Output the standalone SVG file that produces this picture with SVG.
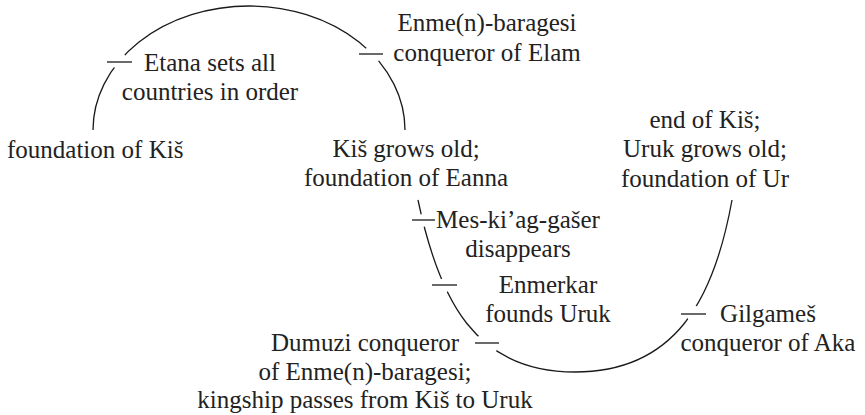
<svg xmlns="http://www.w3.org/2000/svg" width="865" height="415" viewBox="0 0 865 415">
  <style>
    .arc { fill: none; stroke: #1a1a1a; stroke-width: 1.3; }
    .tick { stroke: #1a1a1a; stroke-width: 1.3; }
    text { font-family: "Liberation Serif", "Times New Roman", serif; font-size: 25px; fill: #222; }
    .c { text-anchor: middle; }
  </style>
  <defs>
    <!-- breaks in the arcs where each event tick crosses them -->
    <mask id="gaps" maskUnits="userSpaceOnUse" x="0" y="0" width="865" height="415">
      <rect width="865" height="415" fill="#fff"/>
      <circle cx="120" cy="61.5" r="8" fill="#000"/>
      <circle cx="372" cy="55" r="9" fill="#000"/>
      <circle cx="422.5" cy="220.5" r="6.5" fill="#000"/>
      <circle cx="444" cy="285.5" r="7" fill="#000"/>
      <circle cx="487" cy="344" r="11.5" fill="#000"/>
      <circle cx="694" cy="313.7" r="8" fill="#000"/>
    </mask>
  </defs>

  <g id="connectors" mask="url(#gaps)">
    <!-- Kiš cycle -->
    <path class="arc" d="M93,130 A156,124 0 0 1 405,130"/>
    <!-- Uruk cycle -->
    <path class="arc" d="M418,200 C439,300 475,372 575,372 C675,372 714,300 732,200"/>
  </g>

  <g id="kish-foundation">
    <text x="7" y="158">foundation of Kiš</text>
  </g>

  <g id="etana">
    <line class="tick" x1="107" y1="62" x2="132" y2="62"/>
    <text class="c" x="210" y="71">Etana sets all</text>
    <text class="c" x="210" y="100">countries in order</text>
  </g>

  <g id="enmebaragesi">
    <line class="tick" x1="359" y1="54" x2="383" y2="54"/>
    <text class="c" x="487" y="31">Enme(n)-baragesi</text>
    <text class="c" x="487" y="61">conqueror of Elam</text>
  </g>

  <g id="kish-old">
    <text class="c" x="406" y="157">Kiš grows old;</text>
    <text class="c" x="406" y="186">foundation of Eanna</text>
  </g>

  <g id="end-of-kish">
    <text class="c" x="705" y="128">end of Kiš;</text>
    <text class="c" x="705" y="157">Uruk grows old;</text>
    <text class="c" x="705" y="187">foundation of Ur</text>
  </g>

  <g id="meskiaggasher">
    <line class="tick" x1="412" y1="220" x2="435" y2="220"/>
    <text class="c" x="518" y="228">Mes-ki’ag-gašer</text>
    <text class="c" x="518" y="257">disappears</text>
  </g>

  <g id="enmerkar">
    <line class="tick" x1="432" y1="285" x2="457" y2="285"/>
    <text class="c" x="548" y="293">Enmerkar</text>
    <text class="c" x="548" y="322">founds Uruk</text>
  </g>

  <g id="dumuzi">
    <line class="tick" x1="475" y1="343" x2="499" y2="343"/>
    <text class="c" x="365" y="351">Dumuzi conqueror</text>
    <text class="c" x="365" y="380">of Enme(n)-baragesi;</text>
    <text class="c" x="365" y="408">kingship passes from Kiš to Uruk</text>
  </g>

  <g id="gilgamesh">
    <line class="tick" x1="681" y1="314" x2="706" y2="314"/>
    <text class="c" x="768" y="322">Gilgameš</text>
    <text class="c" x="768" y="351">conqueror of Aka</text>
  </g>
</svg>
